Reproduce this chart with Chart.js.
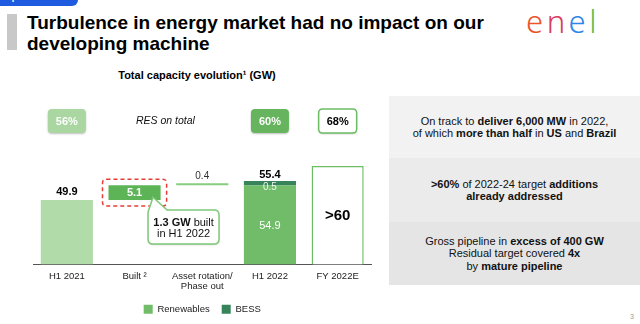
<!DOCTYPE html>
<html><head><meta charset="utf-8">
<script src="https://cdn.jsdelivr.net/npm/chart.js@4.4.1/dist/chart.umd.min.js"></script>
<style>
html,body{margin:0;padding:0;background:#fff;}
body{width:640px;height:324px;position:relative;overflow:hidden;font-family:"Liberation Sans",Arial,sans-serif;color:#000;}
#c{position:absolute;left:0;top:0;}
.tab{position:absolute;left:0;top:-9px;width:78px;height:15px;background:#1f5be0;border-radius:0 0 6px 0;color:#fff;font-size:9px;font-weight:bold;text-align:center;line-height:13px;}
.gbar{position:absolute;left:7px;top:14px;width:10px;height:36px;background:#c8c8c8;}
.title{position:absolute;left:27px;top:12px;font-size:19px;font-weight:bold;line-height:21px;white-space:nowrap;}
.logo{position:absolute;left:526px;top:2px;font-family:"Noto Sans","DejaVu Sans",sans-serif;font-weight:300;font-size:31px;letter-spacing:3.5px;line-height:38px;}
.sub{position:absolute;left:97px;width:200px;top:69px;text-align:center;font-size:11px;font-weight:bold;white-space:nowrap;}
.panel{position:absolute;left:389px;top:96px;width:251px;}
.sec{display:flex;align-items:center;justify-content:center;text-align:center;font-size:11px;line-height:12.5px;color:#111;}
.pn{position:absolute;left:630px;top:313px;font-size:7px;color:#999;}
</style></head>
<body>
<div class="tab">performance</div>
<div class="gbar"></div>
<div class="title">Turbulence in energy market had no impact on our<br>developing machine</div>
<div class="logo"><span style="color:#e9542b">e</span><span style="color:#d93a5e">n</span><span style="color:#2e86e6">e</span><span style="color:#62bd4c">l</span></div>
<div class="sub">Total capacity evolution¹ (GW)</div>
<div class="panel">
  <div class="sec" style="height:62px;background:#f2f2f2;"><div>On track to <b>deliver 6,000 MW</b> in 2022,<br>of which <b>more than half</b> in <b>US</b> and <b>Brazil</b></div></div>
  <div class="sec" style="height:64px;background:#ebebeb;"><div><b>&gt;60%</b> of 2022-24 target <b>additions<br>already addressed</b></div></div>
  <div class="sec" style="height:63px;background:#e5e5e5;"><div>Gross pipeline in <b>excess of 400 GW</b><br>Residual target covered <b>4x</b><br>by <b>mature pipeline</b></div></div>
</div>
<div class="pn">3</div>
<canvas id="c" width="640" height="324"></canvas>
<script>
// ---- data (GW) ----
const categories = ['H1 2021', 'Built ²', ['Asset rotation/', 'Phase out'], 'H1 2022', 'FY 2022E'];
const stepKinds = ['total', 'step', 'step', 'total', 'target'];
const renewablesGW = [49.9, 5.1, 0.4, 54.9, null];
const bessGW = [0, 0, 0, 0.5, 0];
const totalGW = [49.9, null, null, 55.4, null];
const targetGW = [null, null, null, null, 61.6];
const targetLabel = '>60';
const resShare = ['56%', null, null, '60%', '68%'];
const resCaption = 'RES on total';
const builtNote = ['1.3 GW', ' built', 'in H1 2022'];

// waterfall ranges built from the values
const starts = [], ends = [];
let running = 0;
stepKinds.forEach((k, i) => {
  if (k === 'total') { starts.push(0); ends.push(renewablesGW[i]); running = renewablesGW[i] + bessGW[i]; }
  else if (k === 'step') { starts.push(running); ends.push(running + renewablesGW[i]); running += renewablesGW[i]; }
  else { starts.push(0); ends.push(targetGW[i]); }
});
const only = (idx, r) => categories.map((_, i) => i === idx ? r : null);
const clipBottom = {left: false, right: false, top: false, bottom: 0};

function rr(ctx, x, y, w, h, r) {
  ctx.beginPath();
  ctx.moveTo(x + r, y); ctx.lineTo(x + w - r, y); ctx.quadraticCurveTo(x + w, y, x + w, y + r);
  ctx.lineTo(x + w, y + h - r); ctx.quadraticCurveTo(x + w, y + h, x + w - r, y + h);
  ctx.lineTo(x + r, y + h); ctx.quadraticCurveTo(x, y + h, x, y + h - r);
  ctx.lineTo(x, y + r); ctx.quadraticCurveTo(x, y, x + r, y); ctx.closePath();
}
const F = 'Liberation Sans, Arial, sans-serif';

const decor = {
  id: 'decor',
  afterDatasetsDraw(chart) {
    const ctx = chart.ctx, area = chart.chartArea, xs = chart.scales.x;
    const el = (d, i) => chart.getDatasetMeta(d).data[i];
    ctx.save();
    ctx.textAlign = 'center'; ctx.textBaseline = 'middle';
    // H1 2021 total
    let e = el(0, 0);
    ctx.fillStyle = '#000'; ctx.font = 'bold 11px ' + F;
    ctx.fillText(totalGW[0].toFixed(1), e.x, e.y - 8);
    // Built
    e = el(1, 1);
    ctx.fillStyle = '#fff'; ctx.font = 'bold 11px ' + F;
    ctx.fillText(renewablesGW[1].toFixed(1), e.x, (e.y + e.base) / 2 + 0.5);
    // red dashed frame
    const bw = e.width;
    ctx.save();
    ctx.strokeStyle = '#e63c34'; ctx.lineWidth = 1.5; ctx.setLineDash([4, 3]);
    rr(ctx, e.x - bw / 2 - 6, e.y - 6, bw + 12, (e.base - e.y) + 12, 4); ctx.stroke();
    ctx.restore();
    // callout
    const L = e.x + 13.5, T = e.base + 10, W = 71, H = 34, r = 5;
    const tipX = L + 5, tipY = e.y + 12;
    ctx.save();
    ctx.shadowColor = 'rgba(0,0,0,0.18)'; ctx.shadowBlur = 2; ctx.shadowOffsetY = 1;
    ctx.beginPath();
    ctx.moveTo(tipX, tipY); ctx.lineTo(L + 19, T); ctx.lineTo(L + W - r, T);
    ctx.quadraticCurveTo(L + W, T, L + W, T + r); ctx.lineTo(L + W, T + H - r);
    ctx.quadraticCurveTo(L + W, T + H, L + W - r, T + H); ctx.lineTo(L + r, T + H);
    ctx.quadraticCurveTo(L, T + H, L, T + H - r); ctx.lineTo(L, T + 2); ctx.closePath();
    ctx.fillStyle = '#fff'; ctx.fill();
    ctx.shadowColor = 'transparent';
    ctx.strokeStyle = '#7ec878'; ctx.lineWidth = 1.5; ctx.stroke();
    ctx.restore();
    ctx.fillStyle = '#111';
    ctx.font = 'bold 11px ' + F; const w1 = ctx.measureText(builtNote[0]).width;
    ctx.font = '11px ' + F; const w2 = ctx.measureText(builtNote[1]).width;
    const cx = L + W / 2, sx = cx - (w1 + w2) / 2;
    ctx.textAlign = 'left';
    ctx.font = 'bold 11px ' + F; ctx.fillText(builtNote[0], sx, T + 12.5);
    ctx.font = '11px ' + F; ctx.fillText(builtNote[1], sx + w1, T + 12.5);
    ctx.textAlign = 'center'; ctx.fillText(builtNote[2], cx, T + 24);
    // asset rotation
    e = el(2, 2);
    ctx.fillStyle = '#333'; ctx.font = '10px ' + F;
    ctx.fillText(renewablesGW[2].toFixed(1), e.x, e.y - 6.5);
    // H1 2022
    const eb = el(4, 3), er = el(3, 3);
    ctx.fillStyle = '#000'; ctx.font = 'bold 11px ' + F;
    ctx.fillText(totalGW[3].toFixed(1), eb.x, eb.y - 6);
    ctx.fillStyle = 'rgba(255,255,255,0.9)'; ctx.font = '10px ' + F;
    ctx.fillText(bessGW[3].toFixed(1), eb.x, eb.base + 2);
    ctx.fillStyle = '#fff'; ctx.font = '11px ' + F;
    ctx.fillText(renewablesGW[3].toFixed(1), er.x, (er.y + area.bottom) / 2 + 1);
    // target
    e = el(5, 4);
    ctx.fillStyle = '#000'; ctx.font = 'bold 15px ' + F;
    ctx.fillText(targetLabel, e.x, (e.y + area.bottom) / 2 + 1);
    // RES share boxes
    const styles = {0: ['#a9d6a1', null, '#fff'], 3: ['#66b55e', null, '#fff'], 4: ['#fff', '#6dbd65', '#000']};
    resShare.forEach((s, i) => {
      if (!s) return;
      const px = xs.getPixelForValue(i), st = styles[i];
      ctx.save();
      ctx.shadowColor = 'rgba(0,0,0,0.25)'; ctx.shadowBlur = 2; ctx.shadowOffsetY = 1;
      rr(ctx, px - 19, 109, 38, 24, 4);
      ctx.fillStyle = st[0]; ctx.fill();
      ctx.shadowColor = 'transparent';
      if (st[1]) { ctx.strokeStyle = st[1]; ctx.lineWidth = 1.5; ctx.stroke(); }
      ctx.restore();
      ctx.fillStyle = st[2]; ctx.font = 'bold 11px ' + F;
      ctx.fillText(s, px, 121.5);
    });
    ctx.fillStyle = '#111'; ctx.font = 'italic 10.5px ' + F;
    ctx.fillText(resCaption, (xs.getPixelForValue(1) + xs.getPixelForValue(2)) / 2 - 3, 121.5);
    ctx.restore();
  }
};

new Chart(document.getElementById('c'), {
  type: 'bar',
  data: {
    labels: categories,
    datasets: [
      {label: 'H1 2021', data: only(0, [starts[0], ends[0]]), backgroundColor: '#b1dba9'},
      {label: 'Built', data: only(1, [starts[1], ends[1]]), backgroundColor: '#5db456'},
      {label: 'Asset rotation', data: only(2, [starts[2], ends[2]]), backgroundColor: '#88cc81', minBarLength: 2},
      {label: 'Renewables', data: only(3, [starts[3], ends[3]]), backgroundColor: '#70bc68'},
      {label: 'BESS', data: only(3, [ends[3], ends[3] + bessGW[3]]), backgroundColor: '#37835a', minBarLength: 4.5},
      {label: 'FY 2022E', data: only(4, [starts[4], ends[4]]), backgroundColor: '#fff', borderColor: '#6dbd65', borderWidth: 1.5, borderSkipped: false}
    ].map(d => Object.assign({clip: clipBottom, categoryPercentage: 1, barPercentage: 0.77}, d))
  },
  options: {
    responsive: false,
    animation: false,
    layout: {padding: {left: 33, right: 268.5, top: 140, bottom: 0}},
    scales: {
      x: {
        stacked: true,
        grid: {display: false, drawTicks: false},
        border: {display: true, color: '#555', width: 1},
        ticks: {color: '#222', font: {family: F, size: 9.5, lineHeight: 1.1}, padding: 6.5, maxRotation: 0, autoSkip: false},
        afterFit: (s) => { s.height = 28.25; }
      },
      y: {stacked: false, display: false, min: 27.9, max: 70.5}
    },
    plugins: {
      legend: {
        position: 'bottom',
        labels: {
          filter: (item) => item.text === 'Renewables' || item.text === 'BESS',
          boxWidth: 9, boxHeight: 9, padding: 12, color: '#222',
          font: {family: F, size: 9.5}
        }
      },
      tooltip: {enabled: false}
    }
  },
  plugins: [decor]
});
</script>
</body></html>
